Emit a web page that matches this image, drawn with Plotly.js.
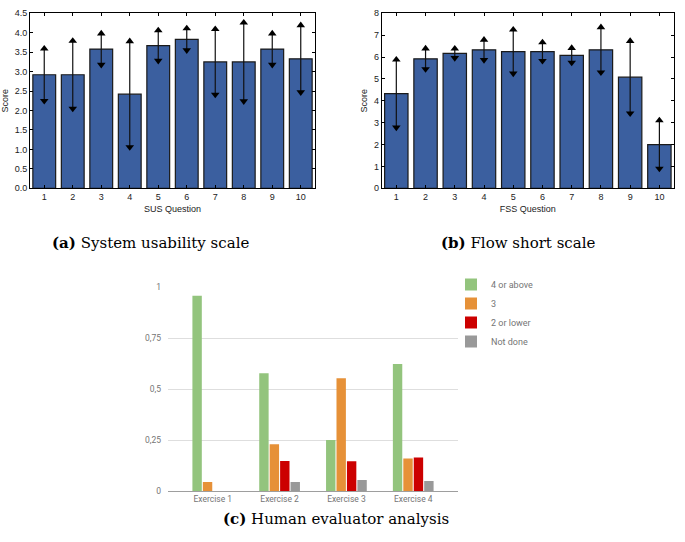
<!DOCTYPE html>
<html>
<head>
<meta charset="utf-8">
<script src="https://cdn.plot.ly/plotly-3.0.1.min.js"></script>
<style>html,body{margin:0;padding:0;background:#fff;}#chart{width:685px;height:542px;}</style>
</head>
<body>
<div id="chart"></div>
<script>
// ---- Data ----
const susQuestions = [1, 2, 3, 4, 5, 6, 7, 8, 9, 10];
const susMean = [2.92, 2.92, 3.58, 2.42, 3.67, 3.83, 3.25, 3.25, 3.58, 3.33];
const susErr  = [0.67, 0.87, 0.40, 1.36, 0.39, 0.28, 0.84, 1.01, 0.40, 0.86];

const fssQuestions = [1, 2, 3, 4, 5, 6, 7, 8, 9, 10];
const fssMean = [4.33, 5.92, 6.17, 6.33, 6.25, 6.25, 6.08, 6.33, 5.08, 2.00];
const fssErr  = [1.55, 0.47, 0.21, 0.46, 1.00, 0.42, 0.33, 1.03, 1.65, 1.10];

const exercises = ["Exercise 1", "Exercise 2", "Exercise 3", "Exercise 4"];
const gradeAbove4 = [0.959, 0.578, 0.250, 0.624];
const grade3      = [0.044, 0.229, 0.553, 0.160];
const grade2Lower = [0.000, 0.147, 0.146, 0.165];
const notDone     = [0.000, 0.044, 0.054, 0.049];

const pctTickVals = [0, 0.25, 0.5, 0.75, 1];
const pctTickText = ["0", "0,25", "0,5", "0,75", "1"];

// ---- Styles ----
const barBlue = "#3b5f9f";
const W = 685, H = 542;
const px = v => v / W;
const py = v => 1 - v / H;

function meanBars(x, mean, err, xa, ya) {
  const up = mean.map((m, i) => m + err[i]);
  const down = mean.map((m, i) => m - err[i]);
  return [
    {type: "bar", x: x, y: mean, xaxis: xa, yaxis: ya, width: 0.8, showlegend: false,
     marker: {color: barBlue, line: {color: "#1a1a1a", width: 1.2}},
     error_y: {type: "data", array: err, visible: true, color: "#111", thickness: 1.2, width: 0},
     hoverinfo: "x+y"},
    {type: "scatter", mode: "markers", x: x, y: up, xaxis: xa, yaxis: ya, showlegend: false,
     marker: {symbol: "triangle-up", size: 7.5, color: "#000"}, hoverinfo: "skip"},
    {type: "scatter", mode: "markers", x: x, y: down, xaxis: xa, yaxis: ya, showlegend: false,
     marker: {symbol: "triangle-down", size: 7.5, color: "#000"}, hoverinfo: "skip"}
  ];
}

const traces = [].concat(
  meanBars(susQuestions, susMean, susErr, "x", "y"),
  meanBars(fssQuestions, fssMean, fssErr, "x2", "y2"),
  [
    {type: "bar", name: "4 or above", x: exercises, y: gradeAbove4, xaxis: "x3", yaxis: "y3", marker: {color: "#93c47d"}},
    {type: "bar", name: "3", x: exercises, y: grade3, xaxis: "x3", yaxis: "y3", marker: {color: "#e69138"}},
    {type: "bar", name: "2 or lower", x: exercises, y: grade2Lower, xaxis: "x3", yaxis: "y3", marker: {color: "#cc0000"}},
    {type: "bar", name: "Not done", x: exercises, y: notDone, xaxis: "x3", yaxis: "y3", marker: {color: "#999999"}}
  ]
);

const mplFont = {family: "Liberation Sans, Arial, sans-serif", size: 9, color: "#222"};
const mplAxis = {
  showline: true, linecolor: "#000", linewidth: 1, mirror: "allticks",
  ticks: "inside", ticklen: 3, tickcolor: "#000", showgrid: false, zeroline: false,
  tickfont: mplFont
};

const gFont = {family: "Roboto, Arial, sans-serif", size: 8.5, color: "#757575"};
const capFont = {family: "DejaVu Serif, serif", size: 15, color: "#000"};

const layout = {
  width: W, height: H,
  margin: {l: 0, r: 0, t: 0, b: 0},
  paper_bgcolor: "#fff", plot_bgcolor: "#fff",
  barmode: "group", bargap: 0.375, bargroupgap: 0.1,
  showlegend: true,
  legend: {x: px(451), y: py(270), xanchor: "left", yanchor: "top",
           font: {family: "Roboto, Arial, sans-serif", size: 9, color: "#757575"},
           bgcolor: "rgba(0,0,0,0)", tracegroupgap: 0},
  xaxis: Object.assign({}, mplAxis, {domain: [px(30), px(315)], anchor: "y", range: [0.5, 10.5],
    tickvals: susQuestions, title: {text: "SUS Question", font: mplFont, standoff: 4}}),
  yaxis: Object.assign({}, mplAxis, {domain: [py(188.3), py(13.3)], anchor: "x", range: [0, 4.5],
    dtick: 0.5, tickformat: ".1f", title: {text: "Score", font: mplFont, standoff: 4}}),
  xaxis2: Object.assign({}, mplAxis, {domain: [px(381.7), px(674)], anchor: "y2", range: [0.5, 10.5],
    tickvals: fssQuestions, title: {text: "FSS Question", font: mplFont, standoff: 4}}),
  yaxis2: Object.assign({}, mplAxis, {domain: [py(188.3), py(13.3)], anchor: "x2", range: [0, 8],
    dtick: 1, title: {text: "Score", font: mplFont, standoff: 4}}),
  xaxis3: {domain: [px(168), px(458)], anchor: "y3", range: [-0.67, 3.67],
    showline: true, linecolor: "#9e9e9e", linewidth: 1, ticks: "", showgrid: false,
    tickfont: gFont},
  yaxis3: {domain: [py(491), py(287.3)], anchor: "x3", range: [0, 1],
    tickvals: pctTickVals, ticktext: pctTickText, showgrid: true, gridcolor: "#dedede",
    gridwidth: 1, zeroline: false, showline: false, ticks: "", tickfont: gFont, ticklabelstandoff: 6},
  annotations: [
    {xref: "paper", yref: "paper", x: px(150), y: py(243), xanchor: "center", yanchor: "middle",
     showarrow: false, text: "<b>(a)</b> System usability scale", font: capFont},
    {xref: "paper", yref: "paper", x: px(518), y: py(243), xanchor: "center", yanchor: "middle",
     showarrow: false, text: "<b>(b)</b> Flow short scale", font: capFont},
    {xref: "paper", yref: "paper", x: px(336), y: py(519), xanchor: "center", yanchor: "middle",
     showarrow: false, text: "<b>(c)</b> Human evaluator analysis", font: capFont}
  ]
};

Plotly.newPlot("chart", traces, layout, {staticPlot: true, displayModeBar: false});
</script>
</body>
</html>
